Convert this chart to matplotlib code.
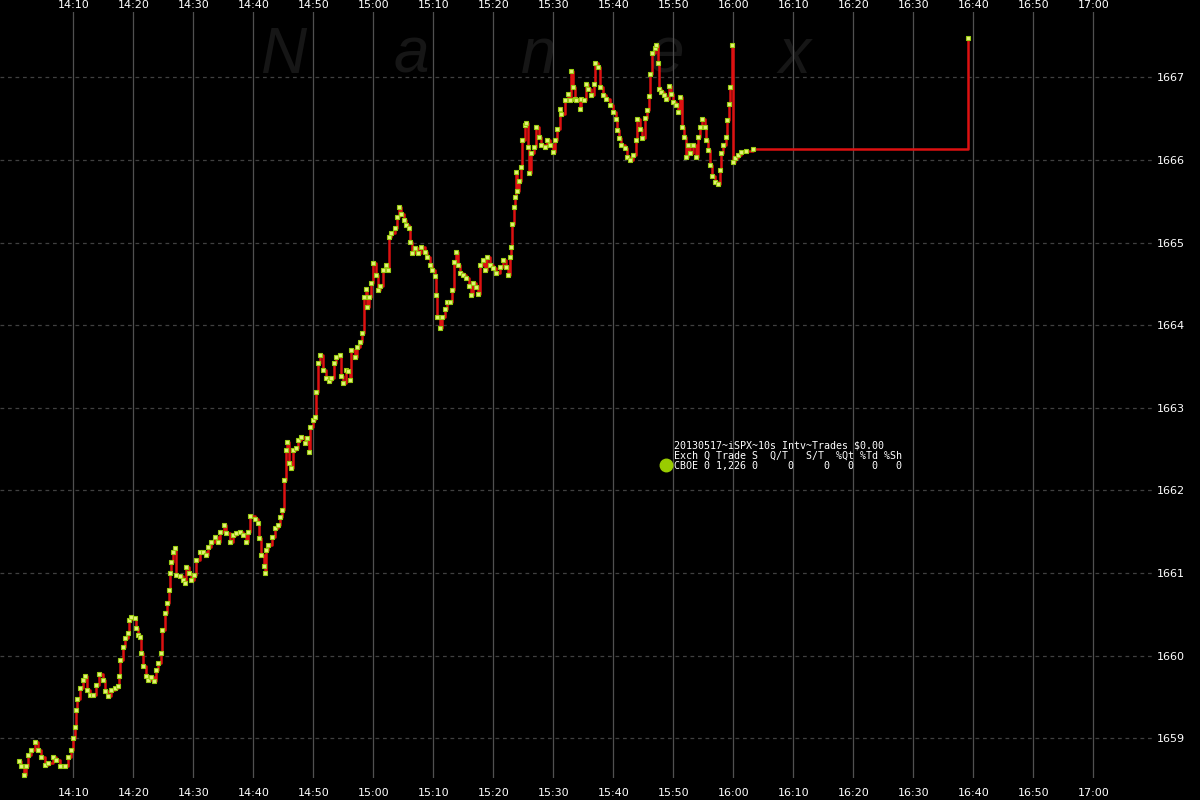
import pandas as pd
import matplotlib
matplotlib.use("Agg")
import matplotlib.pyplot as plt
import matplotlib.dates as mdates


# ----------------------------------------------------------------------
# Data (iSPX 10s interval trades, 2013-05-17)
# ----------------------------------------------------------------------
DAY = "2013-05-17"

TIMES = [
    "14:01:00", "14:01:20", "14:01:50", "14:02:10", "14:02:30", "14:03:00", "14:03:40", "14:04:10",
    "14:04:40", "14:05:20", "14:05:50", "14:06:40", "14:07:10", "14:07:50", "14:08:40", "14:09:10",
    "14:09:40", "14:10:00", "14:10:20", "14:10:30", "14:10:40", "14:11:10", "14:11:40", "14:12:00",
    "14:12:20", "14:12:50", "14:13:20", "14:13:50", "14:14:20", "14:15:00", "14:15:20", "14:15:50",
    "14:16:20", "14:17:00", "14:17:30", "14:17:40", "14:17:50", "14:18:20", "14:18:40", "14:19:10",
    "14:19:20", "14:19:40", "14:20:20", "14:20:30", "14:20:50", "14:21:10", "14:21:20", "14:21:40",
    "14:22:10", "14:22:30", "14:23:00", "14:23:30", "14:23:50", "14:24:10", "14:24:40", "14:24:50",
    "14:25:20", "14:25:40", "14:26:00", "14:26:10", "14:26:20", "14:26:40", "14:27:00", "14:27:10",
    "14:27:50", "14:28:20", "14:28:40", "14:28:50", "14:29:20", "14:29:40", "14:30:10", "14:30:30",
    "14:31:10", "14:31:40", "14:32:10", "14:32:30", "14:33:00", "14:33:40", "14:34:10", "14:34:30",
    "14:35:10", "14:35:30", "14:36:10", "14:36:40", "14:37:10", "14:37:50", "14:38:20", "14:38:50",
    "14:39:10", "14:39:30", "14:40:20", "14:40:50", "14:41:00", "14:41:20", "14:41:50", "14:42:00",
    "14:42:10", "14:42:30", "14:43:10", "14:43:40", "14:44:10", "14:44:30", "14:44:50", "14:45:10",
    "14:45:30", "14:45:40", "14:46:00", "14:46:20", "14:46:40", "14:47:10", "14:47:30", "14:48:00",
    "14:48:40", "14:49:00", "14:49:20", "14:49:30", "14:50:00", "14:50:20", "14:50:30", "14:50:50",
    "14:51:10", "14:51:40", "14:52:10", "14:52:40", "14:53:00", "14:53:30", "14:53:50", "14:54:30",
    "14:54:40", "14:55:00", "14:55:30", "14:55:50", "14:56:10", "14:56:20", "14:57:00", "14:57:20",
    "14:57:50", "14:58:10", "14:58:30", "14:58:50", "14:59:00", "14:59:20", "14:59:40", "15:00:00",
    "15:00:30", "15:00:50", "15:01:10", "15:01:40", "15:02:10", "15:02:30", "15:02:40", "15:03:00",
    "15:03:40", "15:04:00", "15:04:20", "15:04:40", "15:05:10", "15:05:30", "15:06:00", "15:06:10",
    "15:06:30", "15:07:00", "15:07:30", "15:08:00", "15:08:40", "15:09:00", "15:09:30", "15:09:50",
    "15:10:20", "15:10:30", "15:10:40", "15:11:10", "15:11:30", "15:12:00", "15:12:20", "15:12:50",
    "15:13:10", "15:13:30", "15:13:50", "15:14:10", "15:14:30", "15:15:00", "15:15:30", "15:16:00",
    "15:16:20", "15:16:40", "15:17:10", "15:17:30", "15:17:50", "15:18:20", "15:18:40", "15:19:00",
    "15:19:30", "15:20:00", "15:20:30", "15:21:10", "15:21:40", "15:22:10", "15:22:30", "15:22:50",
    "15:23:00", "15:23:10", "15:23:30", "15:23:40", "15:23:50", "15:24:00", "15:24:20", "15:24:40",
    "15:24:50", "15:25:20", "15:25:30", "15:25:50", "15:26:00", "15:26:20", "15:26:50", "15:27:10",
    "15:27:40", "15:28:00", "15:28:40", "15:29:00", "15:29:30", "15:30:00", "15:30:20", "15:30:40",
    "15:31:10", "15:31:20", "15:32:00", "15:32:30", "15:32:50", "15:33:00", "15:33:20", "15:33:40",
    "15:33:50", "15:34:30", "15:34:40", "15:35:10", "15:35:30", "15:35:50", "15:36:20", "15:36:50",
    "15:37:00", "15:37:30", "15:37:50", "15:38:20", "15:38:50", "15:39:30", "15:40:00", "15:40:30",
    "15:40:40", "15:41:00", "15:41:20", "15:42:00", "15:42:20", "15:42:50", "15:43:20", "15:43:50",
    "15:44:00", "15:44:30", "15:44:50", "15:45:20", "15:45:40", "15:46:00", "15:46:10", "15:46:30",
    "15:47:00", "15:47:10", "15:47:30", "15:47:40", "15:48:00", "15:48:30", "15:48:50", "15:49:20",
    "15:49:40", "15:50:00", "15:50:30", "15:50:50", "15:51:10", "15:51:30", "15:51:50", "15:52:10",
    "15:52:30", "15:52:50", "15:53:20", "15:53:50", "15:54:10", "15:54:30", "15:54:50", "15:55:20",
    "15:55:30", "15:55:50", "15:56:10", "15:56:30", "15:57:00", "15:57:30", "15:57:50", "15:58:00",
    "15:58:20", "15:58:50", "15:59:00", "15:59:20", "15:59:30", "15:59:50", "16:00:00", "16:00:20",
    "16:00:50", "16:01:20", "16:02:10", "16:03:20", "16:39:10",
]

PRICES = [
    1658.72, 1658.66, 1658.56, 1658.66, 1658.80, 1658.86, 1658.95, 1658.86,
    1658.78, 1658.68, 1658.70, 1658.77, 1658.74, 1658.66, 1658.66, 1658.78,
    1658.86, 1659.01, 1659.14, 1659.34, 1659.47, 1659.61, 1659.71, 1659.75,
    1659.59, 1659.53, 1659.52, 1659.65, 1659.78, 1659.71, 1659.57, 1659.51,
    1659.59, 1659.61, 1659.63, 1659.75, 1659.95, 1660.11, 1660.22, 1660.28,
    1660.43, 1660.47, 1660.46, 1660.33, 1660.25, 1660.23, 1660.03, 1659.87,
    1659.75, 1659.71, 1659.74, 1659.69, 1659.83, 1659.91, 1660.03, 1660.31,
    1660.52, 1660.64, 1660.80, 1661.00, 1661.14, 1661.26, 1661.30, 1660.98,
    1660.96, 1660.92, 1660.88, 1661.07, 1661.00, 1660.92, 1660.98, 1661.16,
    1661.25, 1661.26, 1661.22, 1661.32, 1661.38, 1661.44, 1661.38, 1661.50,
    1661.58, 1661.48, 1661.38, 1661.46, 1661.48, 1661.50, 1661.46, 1661.38,
    1661.50, 1661.69, 1661.66, 1661.60, 1661.42, 1661.22, 1661.08, 1661.00,
    1661.28, 1661.34, 1661.44, 1661.54, 1661.58, 1661.68, 1661.76, 1662.13,
    1662.49, 1662.59, 1662.33, 1662.27, 1662.49, 1662.51, 1662.61, 1662.65,
    1662.57, 1662.63, 1662.47, 1662.77, 1662.85, 1662.89, 1663.19, 1663.54,
    1663.64, 1663.46, 1663.36, 1663.32, 1663.36, 1663.54, 1663.62, 1663.64,
    1663.38, 1663.30, 1663.46, 1663.44, 1663.34, 1663.70, 1663.62, 1663.74,
    1663.80, 1663.90, 1664.34, 1664.44, 1664.22, 1664.34, 1664.51, 1664.75,
    1664.61, 1664.42, 1664.48, 1664.67, 1664.73, 1664.67, 1665.07, 1665.11,
    1665.17, 1665.31, 1665.43, 1665.35, 1665.27, 1665.21, 1665.17, 1665.01,
    1664.87, 1664.93, 1664.87, 1664.95, 1664.89, 1664.83, 1664.73, 1664.67,
    1664.59, 1664.36, 1664.10, 1663.96, 1664.10, 1664.20, 1664.28, 1664.28,
    1664.42, 1664.77, 1664.89, 1664.73, 1664.63, 1664.61, 1664.57, 1664.48,
    1664.36, 1664.51, 1664.46, 1664.38, 1664.73, 1664.79, 1664.67, 1664.83,
    1664.73, 1664.69, 1664.63, 1664.71, 1664.79, 1664.71, 1664.61, 1664.83,
    1664.95, 1665.23, 1665.43, 1665.55, 1665.85, 1665.62, 1665.75, 1665.92,
    1666.24, 1666.42, 1666.45, 1666.16, 1665.84, 1666.08, 1666.16, 1666.40,
    1666.28, 1666.18, 1666.16, 1666.24, 1666.18, 1666.10, 1666.24, 1666.38,
    1666.62, 1666.56, 1666.72, 1666.80, 1666.72, 1667.08, 1666.88, 1666.74,
    1666.72, 1666.62, 1666.74, 1666.72, 1666.92, 1666.86, 1666.78, 1666.92,
    1667.17, 1667.12, 1666.88, 1666.78, 1666.74, 1666.66, 1666.58, 1666.50,
    1666.36, 1666.26, 1666.18, 1666.14, 1666.04, 1666.00, 1666.06, 1666.24,
    1666.50, 1666.38, 1666.27, 1666.51, 1666.61, 1666.77, 1667.04, 1667.29,
    1667.35, 1667.39, 1667.17, 1666.86, 1666.82, 1666.78, 1666.74, 1666.90,
    1666.80, 1666.70, 1666.66, 1666.58, 1666.76, 1666.40, 1666.28, 1666.04,
    1666.18, 1666.08, 1666.18, 1666.04, 1666.28, 1666.40, 1666.49, 1666.40,
    1666.24, 1666.12, 1665.94, 1665.81, 1665.73, 1665.71, 1665.88, 1666.08,
    1666.18, 1666.28, 1666.48, 1666.68, 1666.88, 1667.39, 1665.98, 1666.02,
    1666.06, 1666.09, 1666.11, 1666.13, 1667.47,
]

Y_TICKS = [1659, 1660, 1661, 1662, 1663, 1664, 1665, 1666, 1667]
X_START, X_END = "13:57:47", "17:10:17"
Y_MIN, Y_MAX = 1658.52, 1667.79

LEGEND_LINES = [
    "20130517~iSPX~10s Intv~Trades $0.00",
    "Exch Q Trade S  Q/T   S/T  %Qt %Td %Sh",
    "CBOE 0 1,226 0     0     0   0   0   0",
]
WATERMARK = ["N", "a", "n", "e", "x"]

BG = "black"
LINE_RED = "#dd1111"
DOT_GREEN = "#99cc11"


def to_dt(t: str) -> pd.Timestamp:
    return pd.Timestamp(f"{DAY} {t}")


def main() -> None:
    times = [to_dt(t) for t in TIMES]

    fig = plt.figure(figsize=(12, 8), dpi=100, facecolor=BG)
    ax = fig.add_axes([0.0, 22 / 800, 1155 / 1200, 766 / 800], facecolor=BG)

    # grid
    x_ticks = pd.date_range(to_dt("14:10:00"), to_dt("17:00:00"), freq="10min")
    for xt in x_ticks:
        ax.axvline(xt, color="#505050", linewidth=0.9, zorder=1)
    for yt in Y_TICKS:
        ax.axhline(yt, color="#404040", linewidth=0.9, dashes=(3, 3), zorder=1)

    # watermark
    for i, ch in enumerate(WATERMARK):
        ax.text((283 + 128 * i) / 1155, 0.9204, ch, transform=ax.transAxes,
                ha="center", va="baseline", fontsize=46, style="italic",
                family="Liberation Sans", color="#161616", zorder=0.5)

    # price trace
    ax.plot(times, PRICES, color=LINE_RED, linewidth=1.8, drawstyle="steps-post",
            zorder=3)
    ax.plot(times, PRICES, linestyle="none", marker="s", markersize=2.6,
            markerfacecolor="#e6f27a", markeredgecolor=DOT_GREEN,
            markeredgewidth=0.8, zorder=4)

    ax.set_xlim(to_dt(X_START), to_dt(X_END))
    ax.set_ylim(Y_MIN, Y_MAX)

    ax.set_xticks(x_ticks)
    ax.xaxis.set_major_formatter(mdates.DateFormatter("%H:%M"))
    ax.tick_params(axis="x", length=0, pad=7, colors="white", labelsize=8)
    ax.set_yticks(Y_TICKS)
    ax.yaxis.tick_right()
    ax.tick_params(axis="y", length=0, pad=1.5, colors="white", labelsize=8)

    top = ax.secondary_xaxis("top")
    top.set_xticks(x_ticks)
    top.xaxis.set_major_formatter(mdates.DateFormatter("%H:%M"))
    top.tick_params(axis="x", length=0, pad=1.5, colors="white", labelsize=8)
    for sp in top.spines.values():
        sp.set_visible(False)

    for sp in ax.spines.values():
        sp.set_visible(False)

    # legend block
    for i, line in enumerate(LEGEND_LINES):
        ax.text(674 / 1155, (778 - 445 - 10.5 * i) / 766, line,
                transform=ax.transAxes, ha="left", va="center",
                family="DejaVu Sans Mono", fontsize=7.2, color="white", zorder=5)
    ax.plot([666 / 1155], [(778 - 465) / 766], marker="o", markersize=9,
            color="#99cc00", transform=ax.transAxes, clip_on=False, zorder=5)

    fig.savefig("out.png", dpi=100, facecolor=BG)
    plt.close(fig)


if __name__ == "__main__":
    main()
